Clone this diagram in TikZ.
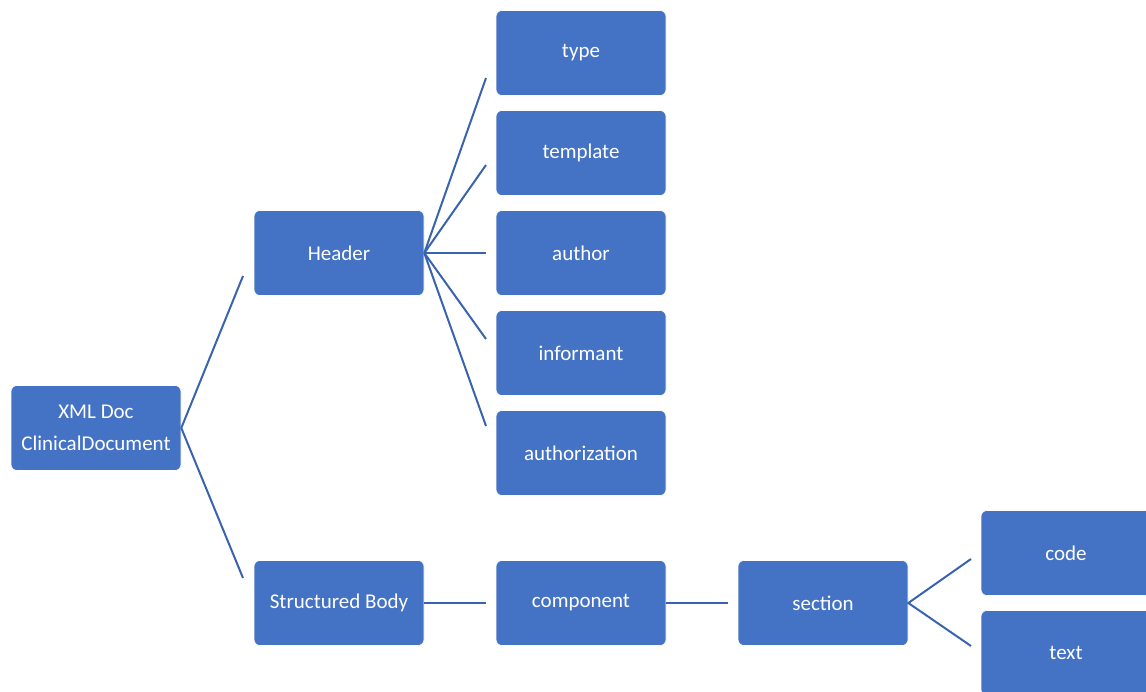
\documentclass[tikz,border=0pt]{standalone}
\usepackage{fontspec}
\setmainfont{Carlito}
\definecolor{boxblue}{HTML}{4472C4}
\definecolor{linkblue}{HTML}{3A63AE}
\begin{document}
\begin{tikzpicture}[x=1pt,y=-1pt,
  box/.style={fill=boxblue, draw=white, line width=0.6pt, rounded corners=6pt,
    minimum width=170pt, minimum height=85pt, inner sep=0pt,
    text=white, font=\fontsize{21}{32}\selectfont, align=center},
  link/.style={draw=linkblue, line width=2pt}]
\useasboundingbox (0,0) rectangle (1146,692);
\begin{scope}
\clip (0,0) rectangle (1146,692);
\node[box] (root) at (96,428) {XML Doc\\ClinicalDocument};
\node[box] (header) at (339,253) {Header};
\node[box] (body) at (339,603) {Structured Body};
\node[box] (type) at (581,53) {type};
\node[box] (template) at (581,153) {template};
\node[box] (author) at (581,253) {author};
\node[box] (informant) at (581,353) {informant};
\node[box] (authz) at (581,453) {authorization};
\node[box] (component) at (581,603) {component};
\node[box] (section) at (823,603) {section};
\node[box] (code) at (1066,553) {code};
\node[box] (text) at (1066,653) {text};

\coordinate (r1) at (243,276);
\coordinate (r2) at (243,578);
\coordinate (h1) at (486,78);
\coordinate (h2) at (486,165);
\coordinate (h3) at (486,253);
\coordinate (h4) at (486,339);
\coordinate (h5) at (486,426);
\coordinate (b1) at (486,603);
\coordinate (c1) at (728,603);
\coordinate (s1) at (971,559);
\coordinate (s2) at (971,646);

\draw[link] (r1) -- (root.east) -- (r2);
\foreach \p in {h1,h2,h3,h4,h5} \draw[link] (header.east) -- (\p);
\draw[link] (body.east) -- (b1);
\draw[link] (component.east) -- (c1);
\draw[link] (s1) -- (section.east) -- (s2);
\end{scope}
\end{tikzpicture}
\end{document}
